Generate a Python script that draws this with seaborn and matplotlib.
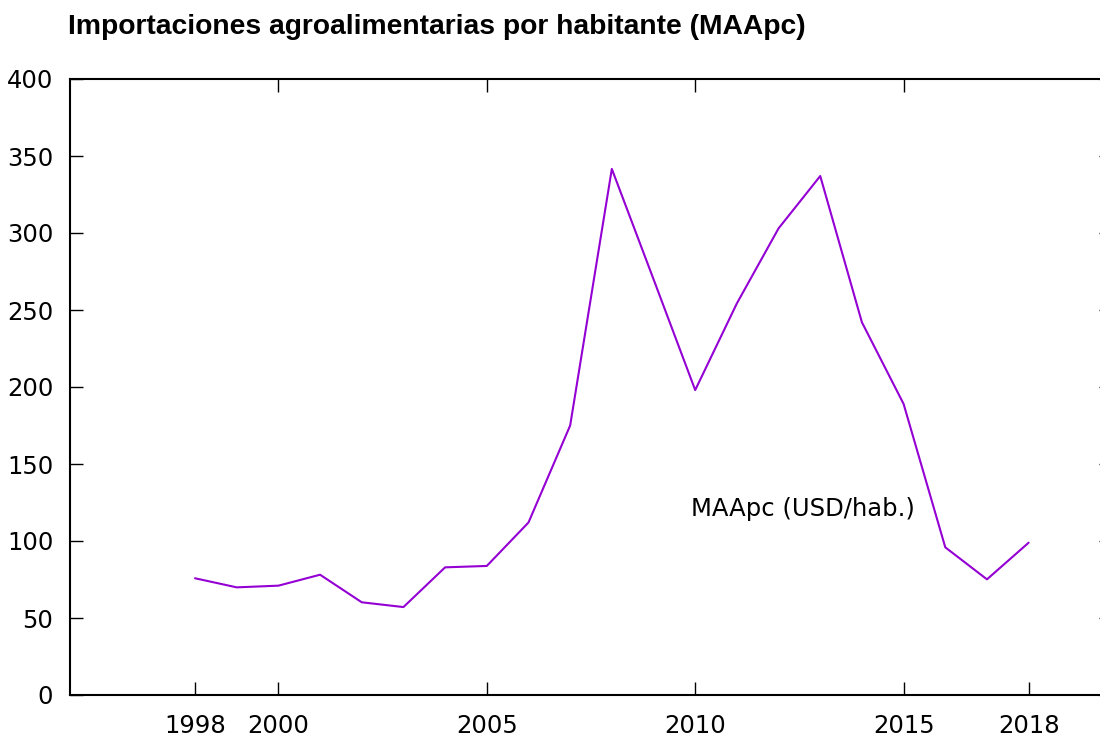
import matplotlib
matplotlib.use("Agg")
import matplotlib.pyplot as plt
import seaborn as sns
import pandas as pd

# data
years = [1998, 1999, 2000, 2001, 2002, 2003, 2004, 2005, 2006, 2007, 2008,
         2009, 2010, 2011, 2012, 2013, 2014, 2015, 2016, 2017, 2018]
maapc = [75.8, 69.9, 71.0, 78.1, 60.2, 57.1, 82.9, 83.8, 112.0, 175.0, 341.6,
         270.0, 198.0, 254.3, 303.0, 337.0, 242.0, 189.0, 95.9, 75.1, 98.9]
xticks = [1998, 2000, 2005, 2010, 2015, 2018]
top_ticks = [2000, 2005, 2010, 2015]
yticks = [0, 50, 100, 150, 200, 250, 300, 350, 400]

title = "Importaciones agroalimentarias por habitante (MAApc)"
label = "MAApc (USD/hab.)"

df = pd.DataFrame({"year": years, "value": maapc})

sns.set_style("white")
plt.rcParams['font.family'] = ['DejaVu Sans']
plt.rcParams['text.color'] = 'black'
plt.rcParams['xtick.color'] = 'black'
plt.rcParams['ytick.color'] = 'black'

fig = plt.figure(figsize=(11, 7.38), dpi=100)
ax = fig.add_axes([70 / 1100, 43 / 738, 1042 / 1100, 616 / 738])

sns.lineplot(data=df, x="year", y="value", color="#9400D3", linewidth=1.5, ax=ax)

ax.set_xlim(1995, 2020)
ax.set_ylim(0, 400)
ax.set_xticks(xticks)
ax.set_yticks(yticks)
ax.set_xlabel("")
ax.set_ylabel("")

for s in ax.spines.values():
    s.set_linewidth(1.5)
    s.set_color("black")

ax.tick_params(axis="x", direction="in", length=9.5, width=1, labelsize=17.5, pad=13.5, bottom=True)
ax.tick_params(axis="y", direction="in", length=9.5, width=1, labelsize=17.5, pad=12,
               left=True, right=True)

# mirrored ticks on top border, only the main years
sec = ax.secondary_xaxis("top")
sec.set_xticks(top_ticks)
sec.tick_params(direction="in", length=9.5, width=1, labeltop=False)
sec.spines["top"].set_visible(False)

ax.text(2009.9, 121, label, ha="left", va="center", fontsize=17.5)

fig.text(68 / 1100, 1 - 27 / 738, title, ha="left", va="center", fontsize=20.3,
         fontweight="bold", family=["Liberation Sans Narrow", "Liberation Sans"])

fig.savefig("out.png", dpi=100)
